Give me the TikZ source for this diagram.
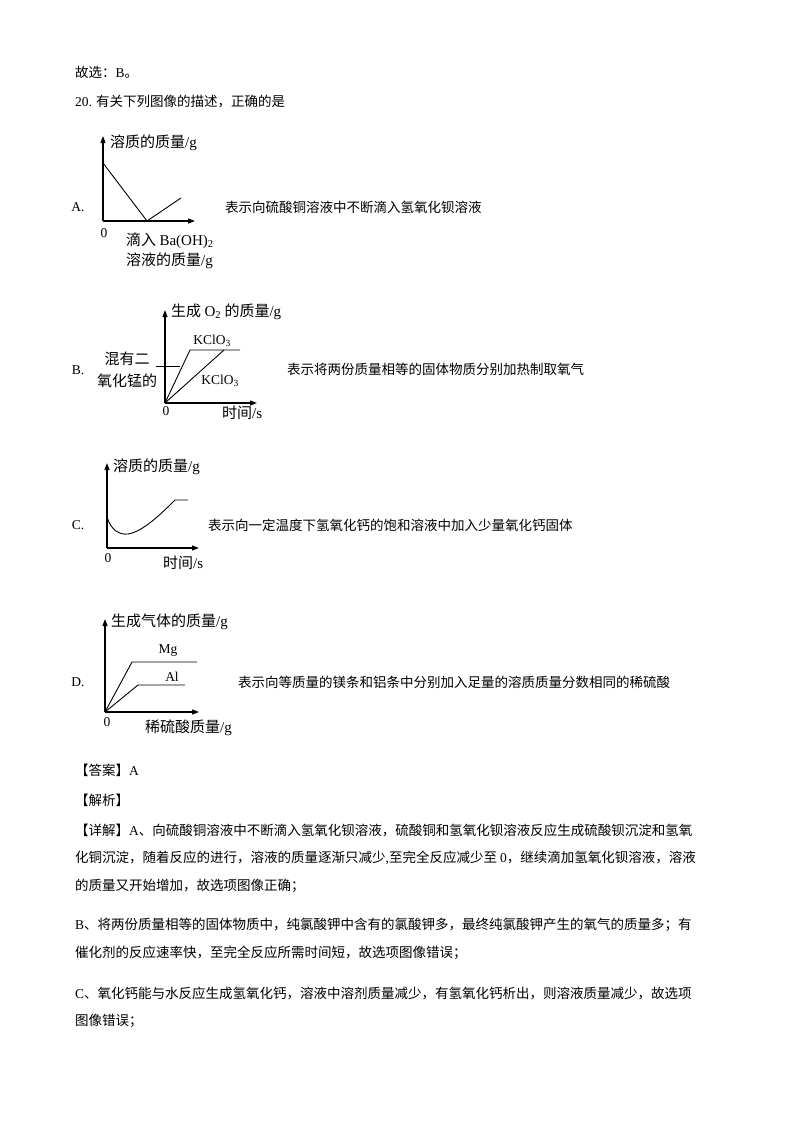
\documentclass[tikz,border=0pt]{standalone}
\usepackage{fontspec}
\setmainfont{Noto Sans CJK SC}
\newfontfamily\lat{Liberation Serif}
\usetikzlibrary{arrows.meta}
\begin{document}
\begin{tikzpicture}[x=1pt,y=-1pt,
  ax/.style={line width=1.2pt,-{Triangle[length=7pt,width=5pt]}},
  cv/.style={line width=0.9pt},
  body/.style={anchor=west,inner sep=0,font=\fontsize{13.5}{16}\selectfont},
  lab/.style={inner sep=0,font=\fontsize{15}{16}\selectfont},
  num/.style={inner sep=0,font=\fontsize{13.5}{14}\lat}]
\useasboundingbox[fill=white] (0,0) rectangle (800,1132);
\node[body] (t1) at (75,72) {故选：{\lat B}。};
\node[body] (t2) at (75,102) {{\lat 20.} 有关下列图像的描述，正确的是};
% A
\node[num] (la) at (78,207) {A.};
\coordinate (oa) at (103,221);
\draw[ax] (oa) -- (103,136);
\draw[ax] (oa) -- (195,221);
\draw[cv] (103,163) -- (147,221) -- (181,198);
\node[lab,anchor=west] (ya) at (110,143) {溶质的质量{\lat/g}};
\node[num] (za) at (104,233) {0};
\node[lab,anchor=west] (xa1) at (126,241) {滴入 {\lat Ba(OH)\textsubscript{2}}};
\node[lab,anchor=west] (xa2) at (126,261) {溶液的质量{\lat/g}};
\node[body] (da) at (225,207) {表示向硫酸铜溶液中不断滴入氢氧化钡溶液};
% B
\node[num] (lb) at (78,370) {B.};
\coordinate (ob) at (165,403);
\draw[ax] (ob) -- (165,310);
\draw[ax] (ob) -- (257,403);
\draw[cv] (ob) -- (190,350) -- (240,350);
\draw[cv] (ob) -- (224,350);
\draw[cv] (156,366) -- (180,366);
\node[lab,anchor=west] (yb) at (171,312) {生成 {\lat O\textsubscript{2}} 的质量{\lat/g}};
\node[num] (k1) at (212,341) {KClO\textsubscript{3}};
\node[num] (k2) at (220,381) {KClO\textsubscript{3}};
\node[lab] (m1) at (127,359) {混有二};
\node[lab] (m2) at (127,381) {氧化锰的};
\node[num] (zb) at (166,411) {0};
\node[lab,anchor=west] (xb) at (222,413) {时间{\lat/s}};
\node[body] (db) at (287,369) {表示将两份质量相等的固体物质分别加热制取氧气};
% C
\node[num] (lc) at (78,525) {C.};
\coordinate (oc) at (107,548);
\draw[ax] (oc) -- (107,463);
\draw[ax] (oc) -- (199,548);
\draw[cv] (107,517) .. controls (111,530) and (119,535) .. (128,534) .. controls (142,532) and (160,515) .. (175,500) -- (188,500);
\node[lab,anchor=west] (yc) at (113,467) {溶质的质量{\lat/g}};
\node[num] (zc) at (108,558) {0};
\node[lab,anchor=west] (xc) at (163,563) {时间{\lat/s}};
\node[body] (dc) at (208,525) {表示向一定温度下氢氧化钙的饱和溶液中加入少量氧化钙固体};
% D
\node[num] (ld) at (78,682) {D.};
\coordinate (od) at (105,712);
\draw[ax] (od) -- (105,619);
\draw[ax] (od) -- (199,712);
\draw[cv] (od) -- (132,662) -- (197,662);
\draw[cv] (od) -- (138,685) -- (185,685);
\node[lab,anchor=west] (yd) at (111,622) {生成气体的质量{\lat/g}};
\node[num] (mg) at (168,651) {Mg};
\node[num] (al) at (172,677) {Al};
\node[num] (zd) at (107,722) {0};
\node[lab,anchor=west] (xd) at (145,728) {稀硫酸质量{\lat/g}};
\node[body] (dd) at (238,682) {表示向等质量的镁条和铝条中分别加入足量的溶质质量分数相同的稀硫酸};
% answer
\node[body] (ans) at (75,770) {【答案】{\lat A}};
\node[body] (jx) at (75,800) {【解析】};
\node[body] (p1) at (75,830) {【详解】{\lat A}、向硫酸铜溶液中不断滴入氢氧化钡溶液，硫酸铜和氢氧化钡溶液反应生成硫酸钡沉淀和氢氧};
\node[body] (p2) at (75,858) {化铜沉淀，随着反应的进行，溶液的质量逐渐只减少{\lat ,}至完全反应减少至 {\lat 0}，继续滴加氢氧化钡溶液，溶液};
\node[body] (p3) at (75,886) {的质量又开始增加，故选项图像正确；};
\node[body] (p4) at (75,925) {{\lat B}、将两份质量相等的固体物质中，纯氯酸钾中含有的氯酸钾多，最终纯氯酸钾产生的氧气的质量多；有};
\node[body] (p5) at (75,953) {催化剂的反应速率快，至完全反应所需时间短，故选项图像错误；};
\node[body] (p6) at (75,993) {{\lat C}、氧化钙能与水反应生成氢氧化钙，溶液中溶剂质量减少，有氢氧化钙析出，则溶液质量减少，故选项};
\node[body] (p7) at (75,1021) {图像错误；};
\end{tikzpicture}
\end{document}
